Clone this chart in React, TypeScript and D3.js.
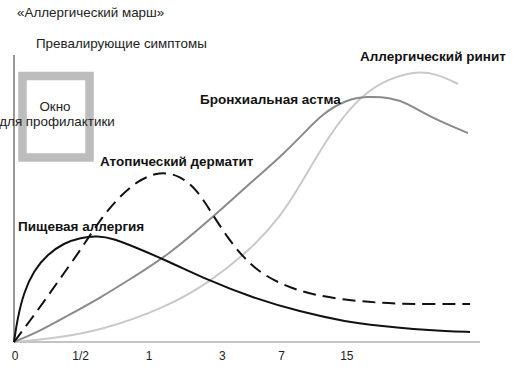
import React from "react";
import * as d3 from "d3";

const width = 531;
const height = 373;
const margin = { top: 55, right: 51, bottom: 31, left: 14 };

// x is an age "step" index (0..7), ticks sit at these steps
const tickLabels = ["0", "1/2", "1", "3", "7", "15"];
const tickSteps = [0, 1, 2.03, 3.13, 4.02, 5];

// [step, level]
const foodAllergy: [number, number][] = [
  [0, 0], [0.05, 8.0], [0.15, 17.5], [0.3, 25.0], [0.5, 30.5], [0.75, 34.5], [1, 36.4],
  [1.25, 37.0], [1.5, 36.0], [1.79, 33.3], [2.3, 28.3], [2.94, 21.3],
  [3.55, 15.7], [4.3, 10.5], [5, 7.0], [5.5, 5.6], [6, 4.5], [6.5, 3.8], [6.85, 3.5],
];

const atopicDermatitis: [number, number][] = [
  [0, 0], [0.25, 7.7], [0.5, 15.7], [0.75, 24.0], [1, 32.1], [1.29, 42.5],
  [1.55, 49.8], [1.85, 56.2], [2.19, 59.5], [2.49, 58.0], [2.75, 53.0],
  [2.94, 46.0], [3.2, 36.6], [3.44, 29.6], [3.7, 24.0], [4.1, 19.2], [4.5, 16.4],
  [5, 14.6], [5.5, 13.6], [6, 13.2], [6.85, 13.2],
];

const asthma: [number, number][] = [
  [0, 0], [0.39, 3.8], [0.8, 9.1], [1.29, 15.3], [1.79, 22.6], [2.3, 30.0],
  [2.99, 43.6], [3.55, 55.4], [4, 64.5], [4.3, 71.4], [4.64, 79.8], [5.0, 84.5],
  [5.3, 85.6], [5.65, 85.2], [5.9, 83.3], [6.25, 78.4], [6.82, 72.8],
];

const rhinitis: [number, number][] = [
  [0, 0], [0.5, 1.0], [1.29, 3.8], [2.3, 12.2], [2.94, 20.9], [3.55, 32.1],
  [4, 43.6], [4.3, 54.7], [4.75, 72.8], [5.15, 84.3], [5.5, 90.5], [6, 94.5],
  [6.35, 93.5], [6.67, 89.9],
];

const font = "'Liberation Sans', Arial, Helvetica, sans-serif";

export default function App() {
  const x = d3
    .scaleLinear()
    .domain([0, 7])
    .range([margin.left, width - margin.right]);
  const y = d3
    .scaleLinear()
    .domain([0, 100])
    .range([height - margin.bottom, margin.top]);

  const line = d3
    .line<[number, number]>()
    .x((d) => x(d[0]))
    .y((d) => y(d[1]))
    .curve(d3.curveBasis);

  const x0 = x(0);
  const yBase = y(0);

  return (
    <svg
      width={width}
      height={height}
      style={{ position: "absolute", left: 0, top: 0, background: "#fff" }}
      fontFamily={font}
    >
      <text x={17} y={17} fontSize={13.4} fill="#222">
        «Аллергический марш»
      </text>
      <text x={36} y={48} fontSize={13.4} fill="#222">
        Превалирующие симптомы
      </text>

      {/* prevention window box */}
      <rect x={22.5} y={76} width={67} height={81.5} fill="none" stroke="#bdbdbd" strokeWidth={8.5} />
      <text x={55} y={111} fontSize={13.4} textAnchor="middle" fill="#222">
        Окно
      </text>
      <text x={57} y={126} fontSize={13.4} textAnchor="middle" fill="#222">
        для профилактики
      </text>

      {/* axes */}
      <line x1={x0} x2={x0} y1={y(100)} y2={yBase} stroke="#333" strokeWidth={1} />
      <line x1={x0} x2={x(7)} y1={yBase} y2={yBase} stroke="#888" strokeWidth={1.2} />
      {tickLabels.map((t, i) => (
        <text
          key={t}
          x={x(tickSteps[i]) + (i === 0 ? 1 : 0)}
          y={360}
          fontSize={12}
          textAnchor="middle"
          fill="#222"
        >
          {t}
        </text>
      ))}

      {/* curves */}
      <path d={line(rhinitis) || ""} fill="none" stroke="#c9c9c9" strokeWidth={2} />
      <path d={line(asthma) || ""} fill="none" stroke="#8a8a8a" strokeWidth={2} />
      <path
        d={line(atopicDermatitis) || ""}
        fill="none"
        stroke="#111"
        strokeWidth={2}
        strokeDasharray="13,7"
      />
      <path d={line(foodAllergy) || ""} fill="none" stroke="#111" strokeWidth={2} />

      {/* labels */}
      <g fontSize={13.5} fontWeight="bold" fill="#111">
        <text x={18} y={231}>Пищевая аллергия</text>
        <text x={100} y={166}>Атопический дерматит</text>
        <text x={200} y={104}>Бронхиальная астма</text>
        <text x={360} y={61}>Аллергический ринит</text>
      </g>
    </svg>
  );
}
